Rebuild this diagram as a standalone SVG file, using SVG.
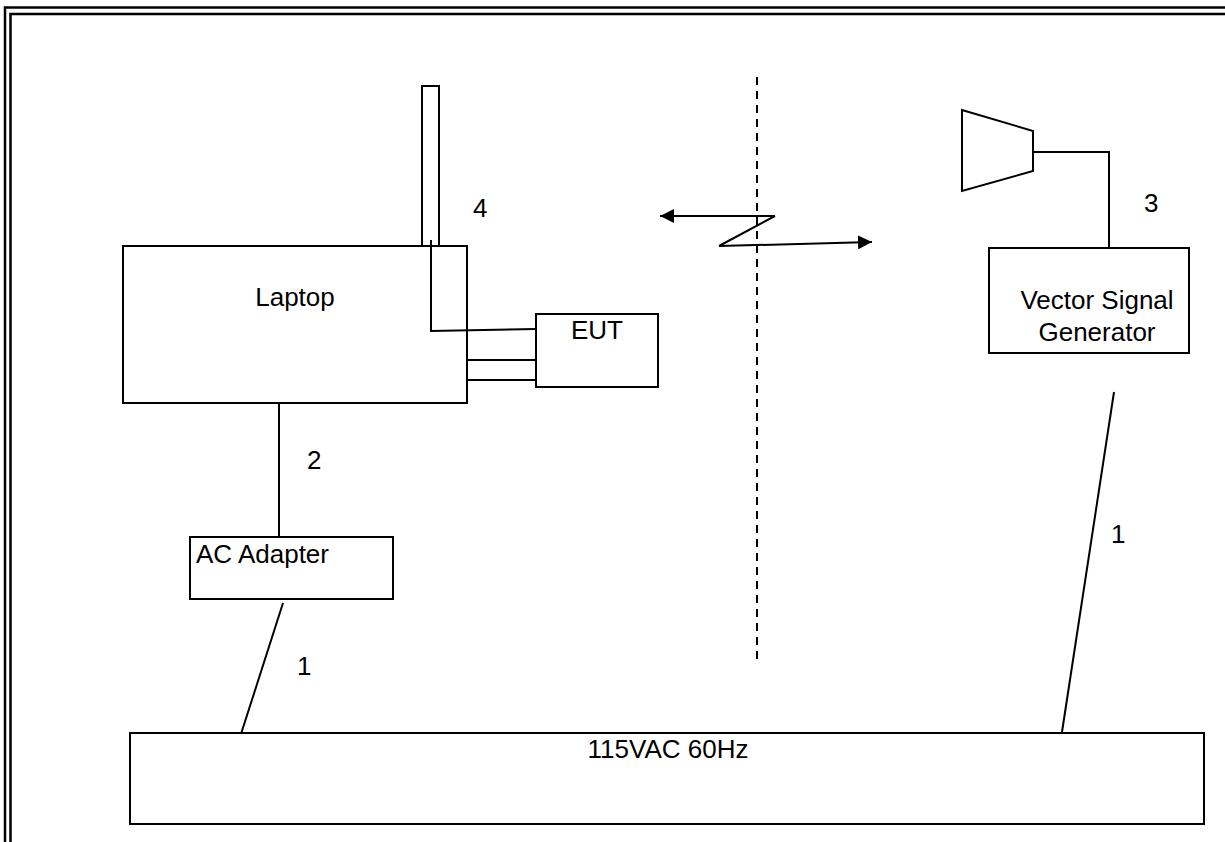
<svg xmlns="http://www.w3.org/2000/svg" width="1225" height="842" viewBox="0 0 1225 842">
<style>
.box{fill:#fff;stroke:#000;stroke-width:2}
.ln{fill:none;stroke:#000;stroke-width:2}
text{font-family:"Liberation Sans",Arial,sans-serif;font-size:26px;fill:#000}
</style>
<defs>
<marker id="ah" viewBox="0 0 14 14" refX="14" refY="7" markerWidth="14" markerHeight="14" markerUnits="userSpaceOnUse" orient="auto">
<path d="M0,0 L14,7 L0,14 Z" fill="#000"/>
</marker>
</defs>
<rect width="1225" height="842" fill="#fff"/>
<g id="frame">
<path d="M5,850 V7.5 H1230" fill="none" stroke="#000" stroke-width="2.5"/>
<path d="M10.5,850 V14 H1230" fill="none" stroke="#000" stroke-width="2.5"/>
</g>
<g id="antenna"><rect class="box" x="422" y="86" width="17" height="160"/></g>
<g id="laptop"><rect class="box" x="123" y="246" width="344" height="157"/><text x="295" y="306" text-anchor="middle">Laptop</text></g>
<g id="eut"><rect class="box" x="536" y="314" width="122" height="73"/><text x="597" y="339" text-anchor="middle">EUT</text></g>
<g id="horn"><polygon class="box" points="962,110 1033,131 1033,171 962,191"/></g>
<g id="vsg"><rect class="box" x="989" y="248" width="200" height="105"/><text x="1097" y="309" text-anchor="middle">Vector Signal</text><text x="1097" y="341" text-anchor="middle">Generator</text></g>
<g id="adapter"><rect class="box" x="190" y="537" width="203" height="62"/><text x="196" y="563">AC Adapter</text></g>
<g id="mains"><rect class="box" x="130" y="733" width="1074" height="91"/><text x="668" y="758" text-anchor="middle">115VAC 60Hz</text></g>
<g id="connectors">
<line class="ln" x1="757" y1="77" x2="757" y2="660" stroke-dasharray="8,6"/>
<polyline class="ln" points="431,240 431,331 536,329"/>
<line class="ln" x1="467" y1="360" x2="536" y2="360"/>
<line class="ln" x1="467" y1="380" x2="536" y2="380"/>
<line class="ln" x1="279" y1="403" x2="279" y2="537"/>
<line class="ln" x1="283" y1="603" x2="241" y2="734"/>
<line class="ln" x1="1114" y1="392" x2="1062" y2="732"/>
<polyline class="ln" points="1033,152 1109,152 1109,248"/>
<polyline class="ln" points="775,216 660,216" marker-end="url(#ah)"/>
<line class="ln" x1="775" y1="216" x2="719" y2="246"/>
<line class="ln" x1="719" y1="246" x2="872" y2="242" marker-end="url(#ah)"/>
</g>
<g id="labels">
<text x="473" y="217">4</text>
<text x="1144" y="212">3</text>
<text x="307" y="469">2</text>
<text x="297" y="675">1</text>
<text x="1111" y="543">1</text>
</g>
</svg>
